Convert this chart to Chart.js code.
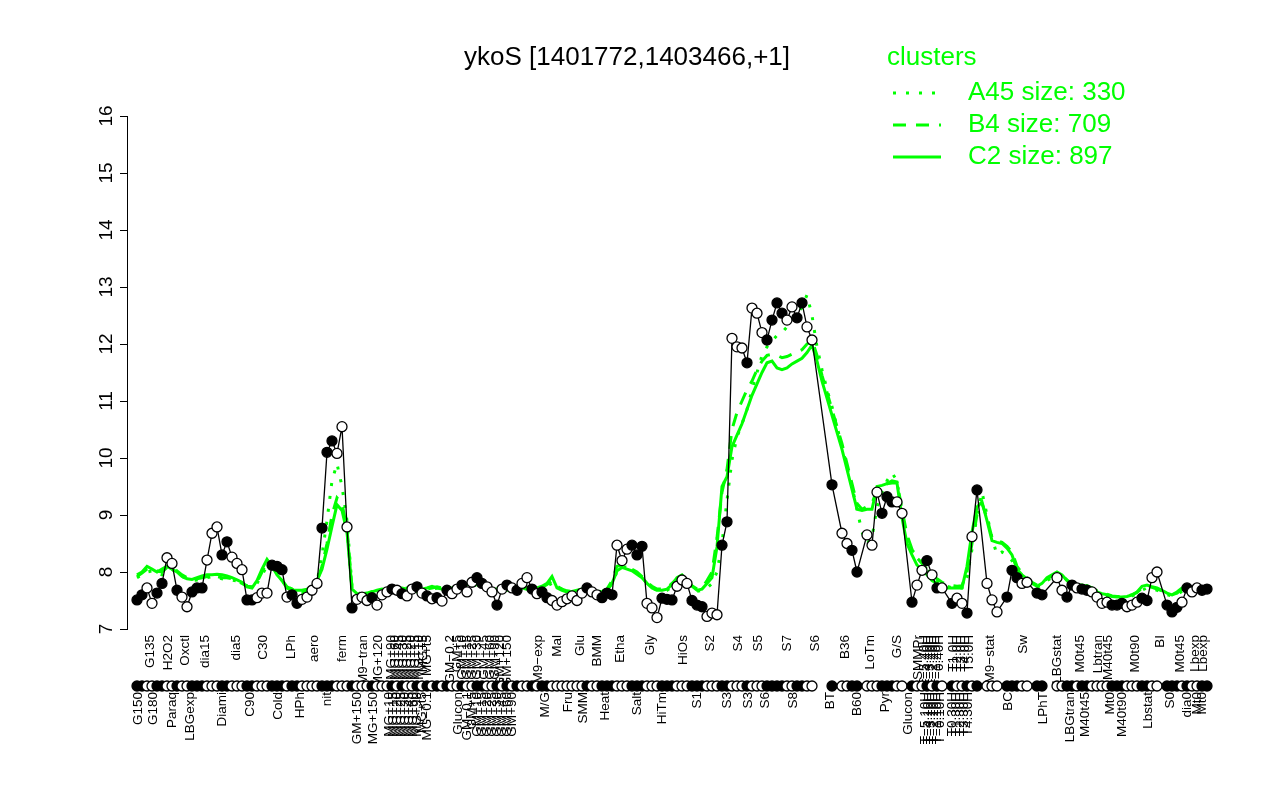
<!DOCTYPE html>
<html>
<head>
<meta charset="utf-8">
<title>ykoS</title>
<script src="https://cdn.jsdelivr.net/npm/chart.js@4.4.0/dist/chart.umd.min.js"></script>
<style>
  html, body { margin: 0; padding: 0; background: #fff; }
  canvas { display: block; }
</style>
</head>
<body>
<canvas id="chart" width="1280" height="800"></canvas>
<script>
// expression level of each condition, in plotting order (null = empty slot)
const expr = [
  7.51,7.60,7.72,7.45,7.63,7.80,8.25,8.15,7.68,7.56,
  7.39,7.65,7.72,7.72,8.21,8.68,8.79,8.30,8.53,8.26,
  8.15,8.04,7.51,7.51,7.55,7.63,7.63,8.12,8.10,8.04,
  7.56,7.60,7.45,7.52,7.56,7.68,7.80,8.77,10.10,10.30,
  10.08,10.55,8.79,7.37,7.52,7.56,7.50,7.55,7.42,7.60,
  7.65,7.70,7.68,7.62,7.58,7.70,7.74,7.63,7.58,7.53,
  7.55,7.49,7.68,7.62,7.70,7.77,7.65,7.82,7.90,7.80,
  7.74,7.65,7.42,7.70,7.77,7.72,7.68,7.80,7.90,7.70,
  7.62,7.65,7.55,7.50,7.42,7.48,7.53,7.58,7.50,7.63,
  7.72,7.65,7.60,7.55,7.63,7.60,8.47,8.20,8.40,8.47,
  8.30,8.45,7.45,7.37,7.20,7.54,7.52,7.51,7.75,7.86,
  7.80,7.50,7.42,7.39,7.22,7.28,7.25,8.47,8.88,12.10,
  11.95,11.93,11.67,12.63,12.54,12.20,12.07,12.42,12.72,12.54,
  12.42,12.65,12.46,12.72,12.30,12.07,null,null,null,9.53,
  null,8.68,8.50,8.38,8.00,null,8.65,8.47,9.40,9.03,
  9.32,9.23,9.23,9.03,null,7.47,7.77,8.03,8.20,7.95,
  7.72,7.72,null,7.45,7.54,7.45,7.28,8.62,9.44,null,
  7.80,7.51,7.30,null,7.56,8.03,7.90,7.80,7.82,null,
  7.63,7.60,null,null,7.90,7.68,7.56,7.77,7.72,7.70,
  7.68,7.65,7.56,7.45,7.47,7.42,7.42,7.45,7.39,7.42,
  7.47,7.54,7.50,7.90,8.00,null,7.42,7.30,7.38,7.47,
  7.72,7.65,7.72,7.68,7.70
];

// 1 = filled marker, 0 = open marker
const filled = [
  1,1,0,0,1,1,0,0,1,0, 0,1,1,1,0,0,0,1,1,0, 0,0,1,1,0,0,0,1,1,1,
  0,1,1,0,0,0,0,1,1,1, 0,0,0,1,0,0,0,1,0,0, 0,1,0,1,0,0,1,0,1,0,
  1,0,1,0,0,1,0,0,1,1, 0,0,1,0,1,0,1,0,0,1, 0,1,1,0,0,0,0,0,0,0,
  1,0,0,1,1,1,0,0,0,1, 1,1,0,0,0,1,1,1,0,0, 0,1,1,1,0,0,0,1,1,0,
  0,0,1,0,0,0,1,1,1,1, 0,0,1,1,0,0,0,0,0,1, 0,0,0,1,1,0,0,0,0,1,
  1,1,0,0,0,1,0,0,1,0, 1,0,0,1,0,0,1,0,1,0, 0,0,0,0,1,1,1,0,0,0,
  1,1,0,0,0,0,1,1,0,1, 1,0,0,0,0,1,1,1,0,0, 0,1,1,0,0,0,1,1,1,0,
  1,0,0,1,1
];

// cluster profiles
const clusterC2 = [
  7.95,8.00,8.10,8.05,8.00,8.05,8.10,8.05,8.00,7.92,
  7.88,7.87,7.90,7.93,7.95,7.95,7.96,7.95,7.93,7.90,
  7.86,7.82,7.74,7.72,7.85,8.05,8.22,8.10,7.95,7.85,
  7.72,7.68,7.68,7.68,7.70,7.72,7.85,8.05,8.40,8.80,
  9.18,9.08,8.70,7.70,7.62,7.60,7.62,7.65,7.68,7.70,
  7.68,7.66,7.70,7.72,7.70,7.68,7.65,7.70,7.72,7.75,
  7.72,7.70,7.68,7.70,7.72,7.75,7.78,7.80,7.78,7.75,
  7.72,7.70,7.68,7.65,7.70,7.72,7.75,7.72,7.70,7.68,
  7.72,7.75,7.80,7.92,7.72,7.68,7.65,7.66,7.68,7.70,
  7.70,7.68,7.66,7.65,7.68,7.80,8.02,8.08,8.05,8.02,
  7.96,7.90,7.80,7.72,7.68,7.68,7.70,7.78,7.90,7.95,
  7.85,7.75,7.68,7.70,7.80,7.90,8.44,9.50,9.67,10.20,
  10.40,10.60,10.85,11.10,11.30,11.50,11.67,11.70,11.58,11.55,
  11.58,11.65,11.70,11.75,11.85,11.98,11.70,11.35,11.05,10.75,
  10.45,10.15,9.80,9.45,9.10,9.08,9.10,9.10,9.50,9.52,
  9.55,9.56,9.56,8.95,8.50,8.30,8.12,8.05,7.95,7.85,
  7.80,7.75,7.72,7.72,7.72,7.72,8.10,8.70,9.14,9.23,
  8.90,8.55,8.52,8.50,8.42,8.30,8.05,7.95,7.88,7.80,
  7.75,7.80,7.90,7.95,8.00,7.95,7.85,7.78,7.77,7.77,
  7.75,7.70,7.65,7.62,7.60,7.57,7.56,7.56,7.57,7.60,
  7.65,7.75,7.77,7.74,7.72,7.68,7.63,7.60,7.65,7.72,
  7.72,7.72,7.70,7.68,7.68
];

const clusterB4 = [
  7.92,7.98,8.05,8.08,8.02,8.00,8.08,8.10,8.02,7.95,
  7.90,7.86,7.88,7.90,7.92,7.94,7.92,7.90,7.90,7.88,
  7.85,7.80,7.75,7.74,7.82,8.00,8.18,8.12,7.98,7.86,
  7.74,7.70,7.66,7.66,7.68,7.72,7.84,8.10,8.50,9.00,
  9.30,9.20,8.75,7.72,7.64,7.62,7.63,7.66,7.66,7.68,
  7.70,7.68,7.69,7.70,7.72,7.70,7.67,7.68,7.70,7.72,
  7.74,7.72,7.70,7.72,7.74,7.73,7.76,7.78,7.80,7.77,
  7.74,7.72,7.70,7.68,7.68,7.70,7.73,7.74,7.72,7.70,
  7.70,7.73,7.78,7.85,7.75,7.70,7.67,7.66,7.67,7.69,
  7.71,7.70,7.68,7.66,7.70,7.85,8.10,8.12,8.08,8.05,
  8.00,7.92,7.82,7.75,7.70,7.70,7.72,7.80,7.88,7.93,
  7.86,7.76,7.70,7.72,7.85,8.00,8.60,9.40,9.80,10.50,
  10.80,11.00,11.20,11.35,11.55,11.70,11.80,11.82,11.80,11.76,
  11.78,11.82,11.86,11.90,12.00,12.07,11.80,11.45,11.15,10.85,
  10.55,10.25,9.90,9.55,9.20,9.10,9.15,9.20,9.45,9.50,
  9.55,9.60,9.58,9.10,8.65,8.40,8.25,8.15,8.05,7.95,
  7.88,7.82,7.78,7.76,7.75,7.76,8.00,8.50,9.00,9.20,
  8.95,8.60,8.55,8.52,8.45,8.35,8.10,7.98,7.90,7.82,
  7.77,7.80,7.88,7.93,7.98,7.94,7.86,7.80,7.78,7.78,
  7.76,7.72,7.67,7.63,7.61,7.58,7.57,7.57,7.58,7.60,
  7.64,7.72,7.75,7.73,7.70,7.67,7.62,7.60,7.63,7.70,
  7.72,7.71,7.70,7.69,7.68
];

const clusterA45 = [
  7.90,7.95,8.00,8.02,7.98,7.95,8.02,8.05,7.98,7.92,
  7.88,7.85,7.86,7.88,7.90,7.92,7.90,7.88,7.87,7.86,
  7.84,7.80,7.76,7.75,7.80,7.95,8.10,8.08,7.96,7.85,
  7.75,7.70,7.65,7.64,7.66,7.70,7.82,8.30,8.90,9.60,
  9.90,9.50,8.90,7.75,7.65,7.60,7.62,7.64,7.65,7.66,
  7.68,7.67,7.68,7.69,7.70,7.68,7.66,7.67,7.69,7.70,
  7.72,7.70,7.69,7.70,7.72,7.72,7.74,7.76,7.77,7.75,
  7.73,7.70,7.69,7.67,7.67,7.69,7.71,7.72,7.70,7.69,
  7.69,7.71,7.75,7.80,7.74,7.70,7.67,7.65,7.66,7.68,
  7.70,7.69,7.67,7.65,7.68,7.80,8.00,8.10,8.08,8.05,
  7.98,7.90,7.80,7.72,7.68,7.66,7.68,7.74,7.82,7.88,
  7.82,7.72,7.66,7.68,7.72,7.80,8.00,8.50,9.26,9.97,
  10.37,10.60,10.85,11.20,11.50,11.80,11.95,12.05,12.15,12.20,
  12.30,12.40,12.50,12.65,12.86,12.50,11.95,11.55,11.20,10.90,
  10.55,10.20,9.85,9.50,9.10,8.70,8.50,8.60,9.14,9.40,
  9.60,9.74,9.60,9.03,8.60,8.38,8.30,8.20,8.05,7.95,
  7.85,7.80,7.75,7.72,7.70,7.72,7.90,8.40,9.00,9.40,
  9.00,8.60,8.30,8.35,8.30,8.20,8.00,7.92,7.86,7.80,
  7.74,7.76,7.85,7.90,7.95,7.90,7.82,7.77,7.75,7.74,
  7.72,7.68,7.64,7.60,7.58,7.56,7.55,7.55,7.56,7.58,
  7.62,7.68,7.72,7.70,7.68,7.64,7.60,7.58,7.60,7.66,
  7.70,7.70,7.69,7.68,7.67
];

// condition labels, two staggered rows under the plot
const upperTickIdx = [2.6,6.2,9.6,13.6,19.8,25.2,30.8,35.4,41,45.2,48.2,
  50.8,51.6,52.4,53.2,54,54.8,55.6,56.4,57.2,58,62.6,64,65,66,67,68,69.4,70.6,71.6,72.6,74,80.2,
  84,88.6,92,96.6,102.6,109.2,114.6,120.2,124.2,130,135.6,141.6,146.6,152,156.2,
  157.4,158,158.6,159.2,159.8,160.4,163.2,164,164.8,165.6,166.4,
  170.6,177.2,184,188.6,192.2,194.2,199.6,204.6,208.6,211.6,213.2];
const upperTickText = ['G135','H2O2','Oxctl','dia15','dia5','C30','LPh','aero','ferm','M9\u2212tran','MG+120',
  'MG+90','MG+60','MG+45','MG+30','MG+25','MG+20','MG+15','MG+10','MG+5','MG+t5','GM\u22120.2','GM+5','GM+10','GM+15','GM+25','GM+30','GM+45','GM+60','GM+90','GM+120','GM+150','M9\u2212exp',
  'Mal','Glu','BMM','Etha','Gly','HiOs','S2','S4','S5','S7','S6','B36','LoTm','G/S','SMMPr',
  'T\u22125.40H','T\u22124.40H','T\u22123.40H','T\u22122.40H','T\u22121.40H','T\u22120.40H','T1.0H','T2.0H','T3.0H','T4.0H','T5.0H',
  'M9\u2212stat','Sw','LBGstat','M0t45','Lbtran','M40t45','M0t90','BI','M0t45','Lbexp','Lbexp'];

const lowerTickIdx = [0.2,3.2,7,10.6,17,22.6,28.2,32.6,38,44,47.2,
  50.4,51.2,52,52.8,53.6,54.4,55.2,56,57,58,64.2,66,67,68,69,70,71,72,73,74,75,
  81.6,86.2,89.2,93.6,100,105,112,118,122.2,125.6,131.2,138.6,144,149.6,154.2,
  157.6,158.2,158.8,159.4,160,160.6,163,163.8,164.6,165.4,166.2,
  174.2,181.2,186.6,189.6,194.6,197,202.2,206.6,210,212,213];
const lowerTickText = ['G150','G180','Paraq','LBGexp','Diami','C90','Cold','HPh','nit','GM+150','MG+150',
  'MG+10','MG+15','MG+20','MG+25','MG+30','MG+45','MG+60','MG+90','MG+t5','MG\u22120.1','Glucon','GM\u22120.1','GM+5','GM+10','GM+15','GM+20','GM+25','GM+30','GM+45','GM+60','GM+90',
  'M/G','Fru','SMM','Heat','Salt','HiTm','S1','S3','S3','S6','S8','BT','B60','Pyr','Glucon',
  'T\u22125.10H','T\u22124.10H','T\u22123.10H','T\u22122.10H','T\u22121.10H','T\u22120.10H','T0.30H','T1.30H','T2.30H','T3.30H','T4.30H',
  'BC','LPhT','LBGtran','M40t45','Mt0','M40t90','Lbstat','S0','dia0','Mt0','Mt0'];

const yTicks = [7,8,9,10,11,12,13,14,15,16];
const clusterNames = ['A45 size: 330', 'B4 size: 709', 'C2 size: 897'];
const title = 'ykoS [1401772,1403466,+1]';

const GREEN = '#00ff00';
const RUG_LEVEL = 6.0;   // row of condition markers below the axis
const FONT = '"Liberation Sans", Arial, Helvetica, sans-serif';

const toPts = arr => arr.map((v, i) => ({ x: i, y: v }));
const fillColors = filled.map(f => f ? '#000' : '#fff');
const rugPts = [], rugFill = [];
expr.forEach((v, i) => {
  if (v !== null) { rugPts.push({ x: i, y: RUG_LEVEL }); rugFill.push(fillColors[i]); }
});

// the condition row sits outside the chart area, so its points are drawn
// here with an unrestricted area instead of the default clipped pass
const rugRow = {
  id: 'rugRow',
  afterDatasetsDraw(chart) {
    const meta = chart.getDatasetMeta(1);
    const whole = { left: 0, top: 0, right: chart.width, bottom: chart.height };
    meta.data.forEach(el => el.draw(chart.ctx, whole));
  }
};

// title, legend and rotated y labels in base-graphics style
const decorations = {
  id: 'decorations',
  afterDraw(chart) {
    const ctx = chart.ctx;
    const yScale = chart.scales.y;
    ctx.save();
    ctx.fillStyle = '#000';
    ctx.font = '19px ' + FONT;
    ctx.textAlign = 'center';
    ctx.textBaseline = 'middle';
    yTicks.forEach(v => {
      ctx.save();
      ctx.translate(107, yScale.getPixelForValue(v));
      ctx.rotate(-Math.PI / 2);
      ctx.fillText(String(v), 0, 0);
      ctx.restore();
    });

    ctx.font = '26px ' + FONT;
    ctx.fillText(title, 627, 58);

    ctx.fillStyle = GREEN;
    ctx.strokeStyle = GREEN;
    ctx.textAlign = 'left';
    ctx.fillText('clusters', 887, 58);
    const dashes = [[3, 10], [13, 10], []];
    clusterNames.forEach((name, k) => {
      const y = 93 + k * 32;
      ctx.lineWidth = 3;
      ctx.setLineDash(dashes[k]);
      ctx.beginPath();
      ctx.moveTo(893, y);
      ctx.lineTo(941, y);
      ctx.stroke();
      ctx.fillText(name, 968, y);
    });
    ctx.restore();
  }
};

const xRange = { min: -2, max: 215.6 };

new Chart(document.getElementById('chart').getContext('2d'), {
  type: 'line',
  data: {
    datasets: [
      {
        label: 'expression',
        data: toPts(expr),
        borderColor: '#000',
        borderWidth: 1.3,
        pointRadius: 5,
        pointBorderWidth: 1.3,
        pointBorderColor: '#000',
        pointBackgroundColor: fillColors,
        spanGaps: true,
        order: 0
      },
      {
        label: 'conditions',
        data: rugPts,
        showLine: false,
        pointRadius: 5,
        pointBorderWidth: 1.3,
        pointBorderColor: '#000',
        pointBackgroundColor: rugFill,
        clip: false,
        order: 0
      },
      {
        label: 'C2',
        data: toPts(clusterC2),
        borderColor: GREEN,
        borderWidth: 3,
        pointRadius: 0,
        order: 3
      },
      {
        label: 'B4',
        data: toPts(clusterB4),
        borderColor: GREEN,
        borderWidth: 3,
        borderDash: [13, 10],
        pointRadius: 0,
        order: 2
      },
      {
        label: 'A45',
        data: toPts(clusterA45),
        borderColor: GREEN,
        borderWidth: 3,
        borderDash: [3, 10],
        pointRadius: 0,
        order: 1
      }
    ]
  },
  options: {
    responsive: false,
    animation: false,
    events: [],
    layout: { padding: { top: 116, left: 0, right: 65, bottom: 24 } },
    plugins: { legend: { display: false }, tooltip: { enabled: false } },
    scales: {
      x: {
        type: 'linear',
        position: 'bottom',
        weight: 1,
        min: xRange.min,
        max: xRange.max,
        grid: { display: false, drawTicks: false },
        border: { display: false },
        afterBuildTicks: scale => { scale.ticks = upperTickIdx.map(v => ({ value: v })); },
        afterFit: scale => { scale.height = 57; },
        ticks: {
          autoSkip: false,
          minRotation: 90,
          maxRotation: 90,
          padding: 6,
          color: '#000',
          font: { family: FONT, size: 13.5 },
          callback: (value, index) => upperTickText[index]
        }
      },
      x2: {
        type: 'linear',
        position: 'bottom',
        weight: 2,
        min: xRange.min,
        max: xRange.max,
        grid: { display: false, drawTicks: false },
        border: { display: false },
        afterBuildTicks: scale => { scale.ticks = lowerTickIdx.map(v => ({ value: v })); },
        afterFit: scale => { scale.height = 90; },
        ticks: {
          autoSkip: false,
          minRotation: 90,
          maxRotation: 90,
          padding: 6,
          color: '#000',
          font: { family: FONT, size: 13.5 },
          callback: (value, index) => lowerTickText[index]
        }
      },
      y: {
        min: 7,
        max: 16,
        afterFit: scale => { scale.width = 127; },
        ticks: { stepSize: 1, display: false },
        grid: { drawOnChartArea: false, drawTicks: true, tickLength: 7, color: '#000', lineWidth: 1 },
        border: { display: true, color: '#000', width: 1 }
      }
    }
  },
  plugins: [rugRow, decorations]
});
</script>
</body>
</html>
